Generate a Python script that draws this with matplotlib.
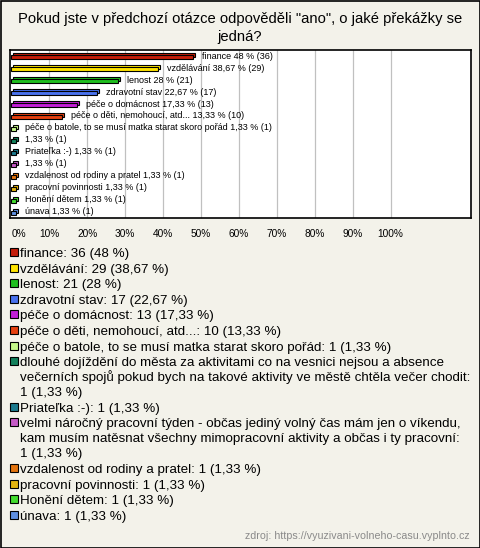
import matplotlib.pyplot as plt
from matplotlib.patches import Rectangle

plt.rcParams["font.family"] = ["Liberation Sans", "DejaVu Sans"]

# ---- DATA ----
title = 'Pokud jste v předchozí otázce odpověděli "ano", o jaké překážky se\njedná?'
categories = [
    "finance",
    "vzdělávání",
    "lenost",
    "zdravotní stav",
    "péče o domácnost",
    "péče o děti, nemohoucí, atd...",
    "péče o batole, to se musí matka starat skoro pořád",
    "dlouhé dojíždění do města za aktivitami co na vesnici nejsou a absence\n"
    "večerních spojů pokud bych na takové aktivity ve městě chtěla večer chodit",
    "Priateľka :-)",
    "velmi náročný pracovní týden - občas jediný volný čas mám jen o víkendu,\n"
    "kam musím natěsnat všechny mimopracovní aktivity a občas i ty pracovní",
    "vzdalenost od rodiny a pratel",
    "pracovní povinnosti",
    "Honění dětem",
    "únava",
]
counts = [36, 29, 21, 17, 13, 10, 1, 1, 1, 1, 1, 1, 1, 1]
total = 75
colors = [
    "#c41e0a", "#ffe400", "#1fbf1f", "#4a72ee", "#c21ed6", "#e5400f",
    "#c6f98a", "#13815c", "#1c7a8e", "#c55ac6", "#e3740f", "#e4b40e",
    "#44dd30", "#5f8fe0",
]
xticks = [0, 10, 20, 30, 40, 50, 60, 70, 80, 90, 100]
source = "zdroj: https://vyuzivani-volneho-casu.vyplnto.cz"


def fmt_pct(p):
    s = f"{p:.2f}".rstrip("0").rstrip(".")
    return s.replace(".", ",")


pcts = [c / total * 100 for c in counts]

bg = "#f3f2ea"
W, H = 480, 548
fig = plt.figure(figsize=(W / 100, H / 100), dpi=100, facecolor=bg)

# title
fig.text(0.5, 1 - 28 / H, title, ha="center", va="center", fontsize=10.6,
         linespacing=1.3)

# ---- BAR CHART ----
ax = fig.add_axes([10 / W, 1 - 218 / H, 461 / W, 168 / H])
ax.set_facecolor("white")
ax.set_xlim(-0.35, 121.2)
ax.set_ylim(13.5, -0.5)
for x in xticks[1:]:
    ax.axvline(x, color="#c0c0c0", linewidth=0.9, zorder=0)

dx, dy, h = 0.55, 0.17, 0.36
for i, (name, p, c) in enumerate(zip(categories, pcts, colors)):
    yc = i + 0.1
    # back face (gives the 3D look)
    ax.add_patch(Rectangle((dx, yc - h / 2 - dy), p, h, facecolor=c,
                           edgecolor="black", linewidth=0.8, zorder=2))
    ax.add_patch(Rectangle((0, yc - h / 2), p, h, facecolor=c,
                           edgecolor="black", linewidth=0.8, zorder=3))
    # long answers are shown without a name next to the bar
    label = name if "\n" not in name else ""
    text = f"{label} {fmt_pct(p)} % ({counts[i]})".strip()
    ax.annotate(text, (p + dx, i), textcoords="offset points", xytext=(5, 0),
                va="center", ha="left", fontsize=6.5, zorder=5)

ax.set_xticks(xticks)
ax.set_xticklabels([f"{x}%" for x in xticks], fontsize=7.3)
ax.get_xticklabels()[0].set_horizontalalignment("left")
ax.tick_params(axis="x", length=0, pad=8)
ax.set_yticks([])
for s in ax.spines.values():
    s.set_linewidth(1.2)

# ---- LEGEND ----
item_h = 15.6
inner_h = 15.0
y = 252
for name, p, c, n in zip(categories, pcts, colors, counts):
    if "\n" in name:
        label = f"{name}:\n{n} ({fmt_pct(p)} %)"
    else:
        label = f"{name}: {n} ({fmt_pct(p)} %)"
    fig.patches.append(Rectangle((10 / W, 1 - (y + 4) / H), 8 / W, 8 / H,
                                 transform=fig.transFigure, facecolor=c,
                                 edgecolor="black", linewidth=0.8))
    lines = label.split("\n")
    for k, line in enumerate(lines):
        fig.text(20 / W, 1 - (y + 5 + k * inner_h) / H, line, ha="left",
                 va="baseline", fontsize=9.6)
    y += item_h + inner_h * (len(lines) - 1)

fig.text(470 / W, 1 - 536 / H, source, ha="right", va="center", fontsize=7.7,
         color="#8a8a8a")

# outer border
fig.patches.append(Rectangle((0.5 / W, 0.5 / H), 1 - 1 / W, 1 - 1 / H,
                             transform=fig.transFigure, fill=False,
                             edgecolor="black", linewidth=1.2))

fig.savefig("out.png", dpi=100, facecolor=bg)
